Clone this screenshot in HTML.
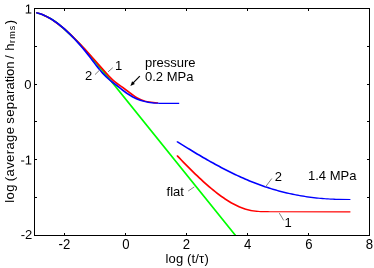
<!DOCTYPE html>
<html><head><meta charset="utf-8">
<style>
html,body{margin:0;padding:0;background:#fff;}
body{width:374px;height:268px;overflow:hidden;}
svg{display:block;}
text{font-family:"Liberation Sans",sans-serif;font-size:13px;fill:#000;}
.xt text{font-size:14px;}
</style></head><body>
<svg width="374" height="268" viewBox="0 0 374 268">
<rect x="0" y="0" width="374" height="268" fill="#fff"/>
<!-- curves -->
<clipPath id="pc"><rect x="35" y="9" width="334" height="226.5"/></clipPath>
<g stroke="none" clip-path="url(#pc)">
<path fill="#00ff00" d="M36.00 12.13 L37.20 12.13 L39.20 12.73 L41.20 13.40 L43.20 14.15 L45.20 14.98 L47.20 15.90 L49.20 16.91 L51.20 18.03 L53.20 19.26 L55.20 20.61 L57.20 22.06 L59.20 23.63 L61.20 25.28 L63.20 27.01 L65.20 28.79 L67.20 30.59 L69.20 32.43 L71.20 34.29 L73.20 36.20 L75.20 38.15 L77.20 40.17 L79.20 42.25 L81.20 44.39 L83.20 46.59 L85.20 48.84 L87.20 51.12 L89.20 53.43 L91.20 55.77 L93.20 58.13 L95.20 60.50 L97.20 62.89 L99.20 65.30 L101.20 67.71 L103.20 70.13 L105.20 72.57 L107.20 75.01 L109.20 77.45 L111.20 79.90 L113.20 82.36 L115.20 84.82 L117.20 87.28 L119.20 89.75 L236.80 235.73 L236.80 236.93 L235.60 236.93 L118.00 90.95 L116.00 88.48 L114.00 86.02 L112.00 83.56 L110.00 81.10 L108.00 78.65 L106.00 76.21 L104.00 73.77 L102.00 71.33 L100.00 68.91 L98.00 66.50 L96.00 64.09 L94.00 61.70 L92.00 59.33 L90.00 56.97 L88.00 54.63 L86.00 52.32 L84.00 50.04 L82.00 47.79 L80.00 45.59 L78.00 43.45 L76.00 41.37 L74.00 39.35 L72.00 37.40 L70.00 35.49 L68.00 33.63 L66.00 31.79 L64.00 29.99 L62.00 28.21 L60.00 26.48 L58.00 24.83 L56.00 23.26 L54.00 21.81 L52.00 20.46 L50.00 19.23 L48.00 18.11 L46.00 17.10 L44.00 16.18 L42.00 15.35 L40.00 14.60 L38.00 13.93 L36.00 13.33 Z"/>
<path fill="#ff0000" d="M36.00 12.14 L37.20 12.14 L39.20 12.67 L41.20 13.32 L43.20 14.08 L45.20 14.95 L47.20 15.93 L49.20 17.00 L51.20 18.16 L53.20 19.42 L55.20 20.76 L57.20 22.18 L59.20 23.68 L61.20 25.26 L63.20 26.90 L65.20 28.60 L67.20 30.37 L69.20 32.19 L71.20 34.07 L73.20 35.99 L75.20 37.96 L77.20 39.96 L79.20 42.01 L81.20 44.09 L83.20 46.20 L85.20 48.34 L87.20 50.51 L89.20 52.70 L91.20 54.92 L93.20 57.15 L95.20 59.40 L97.20 61.66 L99.20 63.93 L101.20 66.21 L103.20 68.49 L105.20 70.77 L107.20 73.03 L109.20 75.23 L111.20 77.32 L113.20 79.27 L115.20 81.02 L117.20 82.56 L119.20 83.99 L121.20 85.41 L123.20 86.85 L125.20 88.31 L127.20 89.80 L129.20 91.31 L131.20 92.81 L133.20 94.26 L135.20 95.65 L137.20 96.93 L139.20 98.07 L141.20 99.05 L143.20 99.83 L145.20 100.44 L147.20 100.91 L149.20 101.28 L151.20 101.56 L153.20 101.79 L155.20 102.00 L157.20 102.22 L158.10 102.33 L158.10 103.53 L156.90 103.53 L156.00 103.42 L154.00 103.20 L152.00 102.99 L150.00 102.76 L148.00 102.48 L146.00 102.11 L144.00 101.64 L142.00 101.03 L140.00 100.25 L138.00 99.27 L136.00 98.13 L134.00 96.85 L132.00 95.46 L130.00 94.01 L128.00 92.51 L126.00 91.00 L124.00 89.51 L122.00 88.05 L120.00 86.61 L118.00 85.19 L116.00 83.76 L114.00 82.22 L112.00 80.47 L110.00 78.52 L108.00 76.43 L106.00 74.23 L104.00 71.97 L102.00 69.69 L100.00 67.41 L98.00 65.13 L96.00 62.86 L94.00 60.60 L92.00 58.35 L90.00 56.12 L88.00 53.90 L86.00 51.71 L84.00 49.54 L82.00 47.40 L80.00 45.29 L78.00 43.21 L76.00 41.16 L74.00 39.16 L72.00 37.19 L70.00 35.27 L68.00 33.39 L66.00 31.57 L64.00 29.80 L62.00 28.10 L60.00 26.46 L58.00 24.88 L56.00 23.38 L54.00 21.96 L52.00 20.62 L50.00 19.36 L48.00 18.20 L46.00 17.13 L44.00 16.15 L42.00 15.28 L40.00 14.52 L38.00 13.87 L36.00 13.34 Z"/>
<path fill="#0000ff" d="M36.00 12.14 L37.20 12.14 L39.20 12.69 L41.20 13.34 L43.20 14.10 L45.20 14.96 L47.20 15.92 L49.20 16.97 L51.20 18.12 L53.20 19.37 L55.20 20.70 L57.20 22.12 L59.20 23.62 L61.20 25.21 L63.20 26.87 L65.20 28.62 L67.20 30.43 L69.20 32.32 L71.20 34.28 L73.20 36.31 L75.20 38.40 L77.20 40.56 L79.20 42.78 L81.20 45.06 L83.20 47.40 L85.20 49.81 L87.20 52.28 L89.20 54.81 L91.20 57.40 L93.20 60.01 L95.20 62.63 L97.20 65.21 L99.20 67.73 L101.20 70.15 L103.20 72.45 L105.20 74.59 L107.20 76.57 L109.20 78.41 L111.20 80.14 L113.20 81.77 L115.20 83.33 L117.20 84.85 L119.20 86.37 L121.20 87.91 L123.20 89.46 L125.20 90.98 L127.20 92.45 L129.20 93.83 L131.20 95.10 L133.20 96.24 L135.20 97.27 L137.20 98.20 L139.20 99.01 L141.20 99.73 L143.20 100.36 L145.20 100.90 L147.20 101.36 L149.20 101.73 L151.20 102.04 L153.20 102.28 L155.20 102.47 L157.20 102.59 L159.20 102.67 L160.60 102.69 L179.20 102.70 L179.20 103.90 L178.00 103.90 L159.40 103.89 L158.00 103.87 L156.00 103.79 L154.00 103.67 L152.00 103.48 L150.00 103.24 L148.00 102.93 L146.00 102.56 L144.00 102.10 L142.00 101.56 L140.00 100.93 L138.00 100.21 L136.00 99.40 L134.00 98.47 L132.00 97.44 L130.00 96.30 L128.00 95.03 L126.00 93.65 L124.00 92.18 L122.00 90.66 L120.00 89.11 L118.00 87.57 L116.00 86.05 L114.00 84.53 L112.00 82.97 L110.00 81.34 L108.00 79.61 L106.00 77.77 L104.00 75.79 L102.00 73.65 L100.00 71.35 L98.00 68.93 L96.00 66.41 L94.00 63.83 L92.00 61.21 L90.00 58.60 L88.00 56.01 L86.00 53.48 L84.00 51.01 L82.00 48.60 L80.00 46.26 L78.00 43.98 L76.00 41.76 L74.00 39.60 L72.00 37.51 L70.00 35.48 L68.00 33.52 L66.00 31.63 L64.00 29.82 L62.00 28.07 L60.00 26.41 L58.00 24.82 L56.00 23.32 L54.00 21.90 L52.00 20.57 L50.00 19.32 L48.00 18.17 L46.00 17.12 L44.00 16.16 L42.00 15.30 L40.00 14.54 L38.00 13.89 L36.00 13.34 Z"/>
<path fill="#ff0000" d="M176.70 155.22 L177.90 155.22 L179.90 157.30 L181.90 159.38 L183.90 161.43 L185.90 163.48 L187.90 165.51 L189.90 167.52 L191.90 169.51 L193.90 171.48 L195.90 173.43 L197.90 175.35 L199.90 177.24 L201.90 179.10 L203.90 180.93 L205.90 182.73 L207.90 184.49 L209.90 186.22 L211.90 187.90 L213.90 189.55 L215.90 191.15 L217.90 192.71 L219.90 194.22 L221.90 195.69 L223.90 197.10 L225.90 198.46 L227.90 199.77 L229.90 201.01 L231.90 202.20 L233.90 203.32 L235.90 204.37 L237.90 205.35 L239.90 206.25 L241.90 207.08 L243.90 207.84 L245.90 208.50 L247.90 209.09 L249.90 209.58 L251.90 209.99 L253.90 210.31 L255.90 210.56 L257.90 210.75 L259.90 210.89 L261.90 210.99 L263.90 211.05 L265.90 211.09 L267.90 211.12 L269.90 211.15 L270.60 211.15 L350.40 211.30 L350.40 212.50 L349.20 212.50 L269.40 212.35 L268.70 212.35 L266.70 212.32 L264.70 212.29 L262.70 212.25 L260.70 212.19 L258.70 212.09 L256.70 211.95 L254.70 211.76 L252.70 211.51 L250.70 211.19 L248.70 210.78 L246.70 210.29 L244.70 209.70 L242.70 209.04 L240.70 208.28 L238.70 207.45 L236.70 206.55 L234.70 205.57 L232.70 204.52 L230.70 203.40 L228.70 202.21 L226.70 200.97 L224.70 199.66 L222.70 198.30 L220.70 196.89 L218.70 195.42 L216.70 193.91 L214.70 192.35 L212.70 190.75 L210.70 189.10 L208.70 187.42 L206.70 185.69 L204.70 183.93 L202.70 182.13 L200.70 180.30 L198.70 178.44 L196.70 176.55 L194.70 174.63 L192.70 172.68 L190.70 170.71 L188.70 168.72 L186.70 166.71 L184.70 164.68 L182.70 162.63 L180.70 160.58 L178.70 158.50 L176.70 156.42 Z"/>
<path fill="#0000ff" d="M176.70 141.15 L177.90 141.15 L179.90 142.41 L181.90 143.66 L183.90 144.91 L185.90 146.15 L187.90 147.38 L189.90 148.61 L191.90 149.83 L193.90 151.04 L195.90 152.24 L197.90 153.43 L199.90 154.62 L201.90 155.79 L203.90 156.95 L205.90 158.11 L207.90 159.25 L209.90 160.38 L211.90 161.50 L213.90 162.61 L215.90 163.71 L217.90 164.80 L219.90 165.87 L221.90 166.93 L223.90 167.97 L225.90 169.00 L227.90 170.02 L229.90 171.02 L231.90 172.01 L233.90 172.99 L235.90 173.94 L237.90 174.88 L239.90 175.81 L241.90 176.72 L243.90 177.61 L245.90 178.49 L247.90 179.34 L249.90 180.18 L251.90 181.00 L253.90 181.80 L255.90 182.59 L257.90 183.35 L259.90 184.09 L261.90 184.82 L263.90 185.52 L265.90 186.20 L267.90 186.87 L269.90 187.51 L271.90 188.13 L273.90 188.74 L275.90 189.32 L277.90 189.89 L279.90 190.44 L281.90 190.96 L283.90 191.47 L285.90 191.96 L287.90 192.43 L289.90 192.89 L291.90 193.32 L293.90 193.74 L295.90 194.14 L297.90 194.52 L299.90 194.89 L301.90 195.24 L303.90 195.57 L305.90 195.88 L307.90 196.18 L309.90 196.46 L311.90 196.73 L313.90 196.98 L315.90 197.21 L317.90 197.43 L319.90 197.63 L321.90 197.82 L323.90 197.99 L325.90 198.14 L327.90 198.29 L329.90 198.41 L331.90 198.52 L333.90 198.62 L335.90 198.70 L337.90 198.77 L338.60 198.79 L350.40 198.90 L350.40 200.10 L349.20 200.10 L337.40 199.99 L336.70 199.97 L334.70 199.90 L332.70 199.82 L330.70 199.72 L328.70 199.61 L326.70 199.49 L324.70 199.34 L322.70 199.19 L320.70 199.02 L318.70 198.83 L316.70 198.63 L314.70 198.41 L312.70 198.18 L310.70 197.93 L308.70 197.66 L306.70 197.38 L304.70 197.08 L302.70 196.77 L300.70 196.44 L298.70 196.09 L296.70 195.72 L294.70 195.34 L292.70 194.94 L290.70 194.52 L288.70 194.09 L286.70 193.63 L284.70 193.16 L282.70 192.67 L280.70 192.16 L278.70 191.64 L276.70 191.09 L274.70 190.52 L272.70 189.94 L270.70 189.33 L268.70 188.71 L266.70 188.07 L264.70 187.40 L262.70 186.72 L260.70 186.02 L258.70 185.29 L256.70 184.55 L254.70 183.79 L252.70 183.00 L250.70 182.20 L248.70 181.38 L246.70 180.54 L244.70 179.69 L242.70 178.81 L240.70 177.92 L238.70 177.01 L236.70 176.08 L234.70 175.14 L232.70 174.19 L230.70 173.21 L228.70 172.22 L226.70 171.22 L224.70 170.20 L222.70 169.17 L220.70 168.13 L218.70 167.07 L216.70 166.00 L214.70 164.91 L212.70 163.81 L210.70 162.70 L208.70 161.58 L206.70 160.45 L204.70 159.31 L202.70 158.15 L200.70 156.99 L198.70 155.82 L196.70 154.63 L194.70 153.44 L192.70 152.24 L190.70 151.03 L188.70 149.81 L186.70 148.58 L184.70 147.35 L182.70 146.11 L180.70 144.86 L178.70 143.61 L176.70 142.35 Z"/>
</g>
<!-- pointers -->
<g stroke="#808080" stroke-width="1" fill="none">
<path d="M112.8 67.7 L108.1 71.8"/>
<path d="M95 74.6 L99.7 70"/>
<path d="M188.2 191 L194.3 186.9"/>
<path d="M271.8 178.5 L265.8 186.5"/>
<path d="M279.3 213.1 L283.7 220.4"/>
</g>
<path d="M139.8 76.1 L132.5 83.7" stroke="#000" stroke-width="1.2" fill="none"/>
<path d="M130.4 85.9 L132.1 81.3 L134.9 84 Z" fill="#000"/>
<!-- axes -->
<g stroke="#000" stroke-width="1" fill="none" shape-rendering="crispEdges">
<rect x="34.5" y="8.5" width="335" height="227"/>
<path d="M64.5 235 v-2 M125.5 235 v-2 M186.5 235 v-2 M247.5 235 v-2 M308.5 235 v-2"/>
<path d="M64.5 9 v2 M125.5 9 v2 M186.5 9 v2 M247.5 9 v2 M308.5 9 v2"/>
<path d="M35 46.5 h2 M35 84.5 h2 M35 121.5 h2 M35 159.5 h2 M35 197.5 h2"/>
<path d="M369 46.5 h-2 M369 84.5 h-2 M369 121.5 h-2 M369 159.5 h-2 M369 197.5 h-2"/>
</g>
<!-- tick labels -->
<g text-anchor="middle" class="xt">
<text transform="translate(64.4,249) scale(0.94,1)">-2</text>
<text transform="translate(126,249) scale(0.94,1)">0</text>
<text transform="translate(186.5,249) scale(0.94,1)">2</text>
<text transform="translate(247.6,249) scale(0.94,1)">4</text>
<text transform="translate(309,249) scale(0.94,1)">6</text>
<text transform="translate(369.3,249) scale(0.94,1)">8</text>
</g>
<g text-anchor="end">
<text transform="translate(32,13.6) rotate(0.05)">1</text>
<text transform="translate(31.4,89)">0</text>
<text transform="translate(32,164.5) rotate(0.05)">-1</text>
<text transform="translate(32.3,239)">-2</text>
</g>
<text id="xl" letter-spacing="0.15" x="187.2" y="262.8" text-anchor="middle">log (t/τ)</text>
<text id="yl" letter-spacing="0.42" word-spacing="-1.2" transform="translate(13.9,202.7) rotate(-90)">log (average sepa<tspan letter-spacing="-0.02">ration</tspan> / <tspan dx="1">h</tspan><tspan font-size="9" dy="1" letter-spacing="1.25">rms</tspan><tspan dy="-1">)</tspan></text>
<text x="145" y="66.8">pressure</text>
<text x="145" y="80.8">0.2 MPa</text>
<text x="308" y="180">1.4 MPa</text>
<text x="115" y="70">1</text>
<text x="85" y="80">2</text>
<text x="274.7" y="180.6">2</text>
<text x="284.4" y="226.5">1</text>
<text x="166.6" y="195.8">flat</text>
</svg>
</body></html>
